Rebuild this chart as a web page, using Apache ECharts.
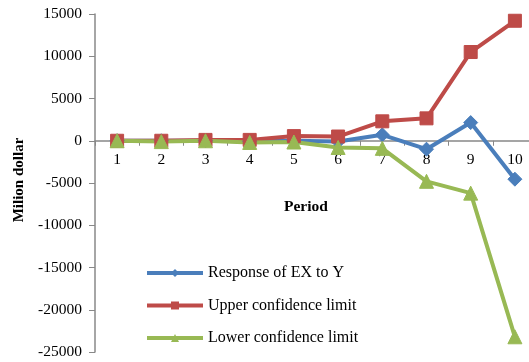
<!DOCTYPE html>
<html><head><meta charset="utf-8">
<script src="https://cdn.jsdelivr.net/npm/echarts@6/dist/echarts.min.js"></script>
<style>html,body{margin:0;padding:0;background:#fff}#c{width:529px;height:362px}</style>
</head><body><div id="c"></div>
<script>
const categories = ['1','2','3','4','5','6','7','8','9','10'];
const responseEX = [0, 0, 0, -50, 0, -100, 700, -1000, 2150, -4550];
const upperLimit = [0, 0, 100, 100, 550, 500, 2300, 2650, 10500, 14200];
const lowerLimit = [0, -100, 0, -200, -150, -800, -900, -4800, -6200, -23200];
const seriesNames = ['Response of EX to Y', 'Upper confidence limit', 'Lower confidence limit'];

const font = '"Liberation Serif", "Times New Roman", serif';
const yMin = -25000, yMax = 15000;
const gridTop = 14, gridHeight = 338;
// offset that moves the category axis from the grid bottom up to the value 0
const zeroOffset = -gridHeight * (0 - yMin) / (yMax - yMin);

const chart = echarts.init(document.getElementById('c'), null, {renderer: 'canvas'});
const mk = (name, data, color, symbol, size) => ({
  name, type: 'line', data, symbol, symbolSize: size, showSymbol: true,
  lineStyle: {color, width: 4}, itemStyle: {color, borderColor: color}, z: 3
});
chart.setOption({
  animation: false,
  textStyle: {fontFamily: font},
  grid: {left: 95, top: gridTop, width: 442, height: gridHeight, containLabel: false, outerBoundsMode: 'none'},
  legend: {
    orient: 'vertical', left: 140, top: 260, itemGap: 16.5, itemWidth: 56, itemHeight: 10,
    textStyle: {fontFamily: font, fontSize: 16, color: '#000', lineHeight: 16},
    lineStyle: {width: 4},
    data: seriesNames
  },
  xAxis: {
    type: 'category', data: categories, boundaryGap: true, position: 'bottom', offset: zeroOffset,
    axisLine: {onZero: false, lineStyle: {color: '#888', width: 1.5}},
    axisTick: {show: true, length: 5, lineStyle: {color: '#888'}},
    axisLabel: {show: true, interval: 0, color: '#000', fontSize: 15.5, fontFamily: font, margin: 11}
  },
  yAxis: {
    type: 'value', min: yMin, max: yMax, interval: 5000,
    axisLine: {show: true, onZero: false, lineStyle: {color: '#888', width: 1.5}},
    axisTick: {show: true, length: 6, lineStyle: {color: '#888'}},
    splitLine: {show: false},
    axisLabel: {color: '#000', fontSize: 15.5, fontFamily: font, margin: 13, formatter: v => String(v)}
  },
  graphic: [
    {type: 'text', left: 284, top: 199, style: {text: 'Period', font: 'bold 15.5px ' + font, fill: '#000'}},
    {type: 'text', x: 19, y: 180, rotation: Math.PI/2, style: {text: 'Milion dollar', font: 'bold 15px ' + font, fill: '#000', align: 'center', verticalAlign: 'middle'}}
  ],
  series: [
    mk(seriesNames[0], responseEX, '#4a7ebb', 'diamond', 14),
    mk(seriesNames[1], upperLimit, '#be4b48', 'rect', 13),
    mk(seriesNames[2], lowerLimit, '#98b954', 'triangle', 14)
  ]
});
</script></body></html>
